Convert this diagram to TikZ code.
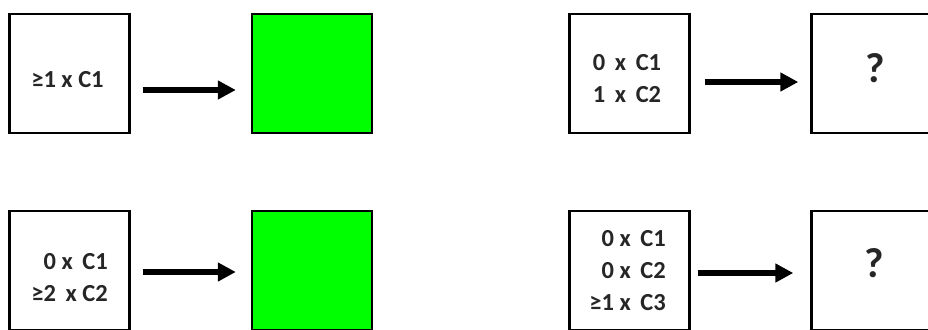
\documentclass[tikz,border=0pt]{standalone}
\usepackage{fontspec}
\setmainfont{Carlito}
\usetikzlibrary{arrows.meta}
\begin{document}
\begin{tikzpicture}[x=1pt,y=-1pt,
  box/.style={draw=black,line width=2.4pt,minimum width=120pt,minimum height=119pt,inner sep=0pt,fill=white},
  gbox/.style={box,fill=green},
  txt/.style={font=\fontsize{24.5}{32}\selectfont\bfseries,text=black!85,inner sep=0pt},
  qtxt/.style={font=\fontsize{42}{42}\selectfont\bfseries,text=black!85,inner sep=0pt},
  arr/.style={line width=6pt,-{Triangle[length=18pt,width=18pt]}}]
\useasboundingbox (0,0) rectangle (928,329);
\clip (0,0) rectangle (928,329);
\node[box] (a1) at (69.5,73.5) {};
\node[gbox] (b1) at (312,73.5) {};
\node[box] (a2) at (629.5,73.5) {};
\node[box] (b2) at (871.5,73.5) {};
\node[box] (a3) at (69.5,270.5) {};
\node[gbox] (b3) at (312,270.5) {};
\node[box] (a4) at (629.5,270.5) {};
\node[box] (b4) at (871.5,270.5) {};
\node[txt] (t1) at (67.5,80) {≥1 x C1};
\node[txt,align=center] (t2) at (627,79) {0\, x\, C1\\1\, x\, C2};
\node[txt,align=right,anchor=east] (t3) at (108,277.5) {0 x\, C1\\≥2\, x C2};
\node[txt,align=right,anchor=east] (t4) at (666,271) {0 x\, C1\\0 x\, C2\\≥1 x\, C3};
\node[qtxt] (q2) at (875,68) {?};
\node[qtxt] (q4) at (874,263) {?};
\draw[arr,shorten <=12pt,shorten >=15pt] ([yshift=-16.5pt]a1.east) -- ([yshift=-16.5pt]b1.west);
\draw[arr,shorten <=14pt,shorten >=12pt] ([yshift=-8.5pt]a2.east) -- ([yshift=-8.5pt]b2.west);
\draw[arr,shorten <=12pt,shorten >=15pt] ([yshift=-1.5pt]a3.east) -- ([yshift=-1.5pt]b3.west);
\draw[arr,shorten <=7pt,shorten >=17pt] ([yshift=-2.5pt]a4.east) -- ([yshift=-2.5pt]b4.west);
\end{tikzpicture}
\end{document}
